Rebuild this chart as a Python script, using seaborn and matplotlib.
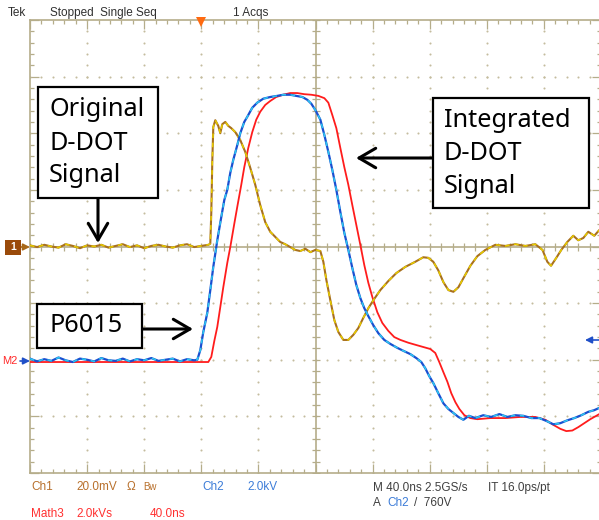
import numpy as np
import matplotlib
matplotlib.use("Agg")
import matplotlib.pyplot as plt
import seaborn as sns
from matplotlib.patches import Rectangle
from matplotlib.ticker import MultipleLocator

# ---------------- data (time in ns from trigger, amplitude in divisions) -------------
ch1_t = [-120, -115, -110, -105, -100, -95, -90, -85, -80, -75, -70, -65, -60, -55, -50,
         -45, -40, -35, -30, -25, -20, -15, -10, -5, 0, 5,
         6.3, 7, 7.7, 8.4, 9.8, 11.9, 13.3, 14.7, 16.8, 18.9, 21, 23.8,
         27.3, 30.8, 34.3, 37.8, 41.3, 44.8, 48.3, 51.8, 55.3, 58.8,
         62.3, 65.8, 69.3, 72.9, 76.4, 79.9, 83.4, 85.5, 87.6, 90.4,
         93.2, 96, 99.5, 103, 106.5, 110, 113.5, 117, 120.5, 125.4,
         131, 136.6, 142.9, 149.9, 155.5, 159, 162.5, 166, 169.6, 173.1,
         176.6, 180.1, 183.6, 188.5, 193.4, 199, 206, 213, 220, 227,
         234, 239, 242.4, 245, 248.7, 252.2, 256.4, 260.6, 264.1, 267.6,
         271.1, 275.3, 278.8]
ch1_v = [0.02, -0.01, 0.03, 0.0, -0.02, 0.04, 0.01, -0.03, 0.02, 0.0, 0.03, -0.02, 0.01,
         0.04, -0.01, 0.02, -0.03, 0.01, 0.03, 0.0, -0.02, 0.02, 0.04, -0.01, 0.01, 0.03,
         0.05, 0.6, 1.5, 2.11, 2.23, 2.13, 2.0, 2.16, 2.2, 2.13, 2.09, 2.02,
         1.88, 1.67, 1.39, 1.09, 0.73, 0.43, 0.26, 0.17, 0.08, 0.04,
         -0.01, -0.06, -0.08, -0.04, -0.10, -0.06, -0.08, -0.27, -0.59, -0.95,
         -1.30, -1.51, -1.65, -1.65, -1.56, -1.44, -1.26, -1.09, -0.95, -0.77,
         -0.61, -0.47, -0.36, -0.27, -0.19, -0.20, -0.27, -0.42, -0.63, -0.77,
         -0.80, -0.72, -0.56, -0.34, -0.17, -0.06, 0.03, 0.01, 0.04, 0.01,
         0.04, -0.06, -0.27, -0.34, -0.20, -0.06, 0.08, 0.19, 0.11, 0.15,
         0.26, 0.19, 0.29]

ch2_t = [-120, -115, -110, -105, -100, -95, -90, -85, -80, -75, -70, -65, -60, -55, -50,
         -45, -40, -35, -30, -25, -20, -15, -10, -5,
         -2.8, -0.7, 1.4, 4.2, 6.3, 8.4, 11.2, 13.3, 16.1, 18.2,
         20.3, 22.4, 25.2, 27.3, 30.1, 32.2, 35.7, 39.2, 43.4, 48.3,
         53.2, 57.4, 62.3, 66.5, 70.8, 74.3, 77.1, 79.9, 83.4, 86.2,
         89, 91.8, 94.6, 97.4, 100.2, 103, 105.8, 108.6, 111.4, 114.2,
         117, 120.5, 124, 128.2, 132.4, 137.3, 142.2, 146.4, 150.6,
         154.1, 156.9, 159.7, 162.5, 166, 169.6, 173.1, 176.6, 180.1, 183.6,
         187.5, 191.9, 197.5, 203.1, 208.8, 214.4, 220, 225.6, 231.2, 236.8,
         241.7, 246.6, 251.5, 256.4, 261.3, 266.2, 271.1, 275.3, 278.8]
ch2_v = [-1.98, -2.03, -1.99, -2.02, -1.96, -2.01, -2.04, -1.98, -2.0, -2.03, -1.97, -2.01,
         -2.02, -1.98, -2.03, -1.99, -2.01, -1.97, -2.02, -2.0, -1.98, -2.03, -1.99, -2.01,
         -2.0, -1.83, -1.51, -1.17, -0.77, -0.36, 0.11, 0.42, 0.82, 1.0,
         1.30, 1.53, 1.79, 2.0, 2.20, 2.29, 2.45, 2.54, 2.61, 2.64,
         2.66, 2.68, 2.68, 2.66, 2.64, 2.59, 2.52, 2.41, 2.24, 1.97,
         1.67, 1.35, 1.0, 0.61, 0.24, -0.06, -0.38, -0.68, -0.91, -1.09,
         -1.23, -1.39, -1.53, -1.65, -1.72, -1.79, -1.85, -1.90, -1.97,
         -2.04, -2.15, -2.29, -2.41, -2.59, -2.77, -2.87, -2.94, -3.01, -3.06,
         -2.99, -3.03, -2.98, -3.01, -2.96, -3.01, -2.98, -2.99, -3.03, -3.03,
         -3.08, -3.14, -3.12, -3.07, -3.03, -2.98, -2.92, -2.89, -2.85]

math3_t = [-120, 4.9, 7, 9.1, 11.2, 13.3, 15.4, 18.2, 20.3, 23.1, 25.2, 28, 30.1, 32.9,
           35.7, 38.5, 41.3, 44.8, 48.3, 52.5, 57.4, 62.3, 67.2, 72.1, 77.1, 82, 86.2,
           89, 91.8, 94.6, 97.4, 100.2, 103, 105.8, 108.6, 111.4, 114.2, 117, 119.8,
           123.3, 126.8, 131, 135.2, 139.5, 145.1, 150.6, 156.2, 160.4, 163.9, 166.7,
           169.6, 172.4, 175.1, 178, 180.8, 184.3, 188.5, 193.4, 202.5, 213, 223.5,
           234, 241, 246.6, 251.5, 255.7, 259.9, 264.1, 268.3, 272.5, 278.8]
math3_v = [-2.04, -2.04, -1.95, -1.67, -1.42, -1.07, -0.72, -0.29, -0.01, 0.40, 0.70, 1.09,
           1.40, 1.74, 2.02, 2.24, 2.38, 2.50, 2.57, 2.64, 2.68, 2.71, 2.71, 2.69, 2.68,
           2.66, 2.62, 2.54, 2.32, 2.09, 1.74, 1.40, 1.09, 0.73, 0.38, 0.03, -0.33,
           -0.64, -0.89, -1.16, -1.35, -1.49, -1.60, -1.65, -1.70, -1.74, -1.78, -1.81,
           -1.88, -2.04, -2.22, -2.39, -2.59, -2.75, -2.87, -2.98, -3.03, -3.05, -3.03,
           -3.03, -3.01, -3.01, -3.06, -3.15, -3.22, -3.26, -3.25, -3.19, -3.12, -3.05,
           -2.96]

# ---------------- style ----------------
sns.set_style("white")
plt.rcParams["font.family"] = ["Noto Sans", "DejaVu Sans"]

W, H = 599, 520
fig = plt.figure(figsize=(W / 100, H / 100), dpi=100)


def fx(x):
    return x / W


def fy(y):
    return 1 - y / H


GRAT = "#b5ad8a"
DOT = "#c4bc9e"

ax = fig.add_axes([fx(30), fy(473), (601 - 30) / W, (473 - 20) / H])
ax.set_xlim(-120, 280)
ax.set_ylim(-4, 4)
for s in ax.spines.values():
    s.set_color(GRAT)
    s.set_linewidth(1.2)
ax.xaxis.set_major_locator(MultipleLocator(40))
ax.xaxis.set_minor_locator(MultipleLocator(8))
ax.yaxis.set_major_locator(MultipleLocator(1))
ax.yaxis.set_minor_locator(MultipleLocator(0.2))
ax.tick_params(which="both", direction="in", top=True, right=True, bottom=True, left=True,
               labelbottom=False, labelleft=False, color=GRAT, width=0.9)
ax.tick_params(which="major", length=6.5)
ax.tick_params(which="minor", length=3.2)

# graticule: dotted division lines
ydots = np.arange(-4, 4.001, 0.2)
xdots = np.arange(-120, 280.1, 8)
for xm in [-80, -40, 0, 40, 120, 160, 200, 240]:
    ax.plot([xm] * len(ydots), ydots, ls="none", marker="o", ms=1.5, mew=0, color=DOT, zorder=1)
for ym in [-3, -2, -1, 1, 2, 3]:
    ax.plot(xdots, [ym] * len(xdots), ls="none", marker="o", ms=1.5, mew=0, color=DOT, zorder=1)
# center cross with ticks
ax.axvline(80, color=GRAT, lw=1.2, zorder=1)
ax.axhline(0, color=GRAT, lw=1.2, zorder=1)
ax.plot([80] * len(ydots), ydots, ls="none", marker="_", ms=6, mew=0.9, color=GRAT, zorder=1)
ax.plot(xdots, [0] * len(xdots), ls="none", marker="|", ms=6, mew=0.9, color=GRAT, zorder=1)

# ---------------- traces ----------------
sns.lineplot(x=math3_t, y=math3_v, ax=ax, color="#ff1c1c", linewidth=1.3,
             estimator=None, sort=False, legend=False, zorder=3)
sns.lineplot(x=ch1_t, y=ch1_v, ax=ax, color="#a8701e", linewidth=1.5,
             estimator=None, sort=False, legend=False, zorder=4)
sns.lineplot(x=ch1_t, y=ch1_v, ax=ax, color="#e6cc00", linewidth=1.1,
             estimator=None, sort=False, legend=False, zorder=4)
ax.lines[-1].set_dashes([3, 3])
sns.lineplot(x=ch2_t, y=ch2_v, ax=ax, color="#1a4fd0", linewidth=1.6,
             estimator=None, sort=False, legend=False, zorder=5)
sns.lineplot(x=ch2_t, y=ch2_v, ax=ax, color="#2cc8f0", linewidth=1.1,
             estimator=None, sort=False, legend=False, zorder=5)
ax.lines[-1].set_dashes([3, 3])
ax.set_xlabel("")
ax.set_ylabel("")
ax.set_xlim(-120, 280)
ax.set_ylim(-4, 4)

# trigger position marker
ax.plot([0], [3.96], marker="v", ms=7, color="#ff6a10", mew=0, clip_on=False, zorder=6)

# ---------------- left/right level markers ----------------
fig.add_artist(Rectangle((fx(5), fy(255)), 16 / W, 15 / H, transform=fig.transFigure,
                         facecolor="#9a4a0a", edgecolor="none"))
fig.text(fx(13), fy(247.5), "1", color="white", fontsize=7.5, fontweight="bold",
         ha="center", va="center", family="Liberation Sans")
arrow_small = dict(arrowstyle="-|>,head_length=0.5,head_width=0.25", lw=1.2,
                   shrinkA=0, shrinkB=0, mutation_scale=8)
ax.annotate("", xy=(fx(30), fy(247)), xycoords="figure fraction", xytext=(fx(21), fy(247)),
            textcoords="figure fraction", arrowprops=dict(color="#a86818", **arrow_small))
fig.text(fx(2), fy(361), "M2", color="#ff2a2a", fontsize=8, ha="left", va="center",
         family="Liberation Sans")
ax.annotate("", xy=(fx(30), fy(361)), xycoords="figure fraction", xytext=(fx(20), fy(361)),
            textcoords="figure fraction", arrowprops=dict(color="#2050c8", **arrow_small))
ax.annotate("", xy=(fx(585), fy(340)), xycoords="figure fraction", xytext=(fx(599), fy(340)),
            textcoords="figure fraction", arrowprops=dict(color="#2050c8", **arrow_small))

# ---------------- header / footer text ----------------
SC = dict(fontsize=8.5, family="Liberation Sans", va="baseline", ha="left")
fig.text(fx(8), fy(16), "Tek", color="#303030", **SC)
fig.text(fx(50), fy(16), "Stopped  Single Seq", color="#303030", **SC)
fig.text(fx(233), fy(16), "1 Acqs", color="#303030", **SC)

BR = "#b8702c"
BL = "#3c7cd8"
RD = "#ff3030"
DK = "#404040"
fig.text(fx(31), fy(490), "Ch1", color=BR, **SC)
fig.text(fx(76), fy(490), "20.0mV", color=BR, **SC)
fig.text(fx(127), fy(490), "Ω", color=BR, **SC)
fig.text(fx(143), fy(490), "Bw", color=BR, fontsize=7, family="Liberation Sans",
         va="baseline", ha="left")
fig.text(fx(202), fy(490), "Ch2", color=BL, **SC)
fig.text(fx(247), fy(490), "2.0kV", color=BL, **SC)
fig.text(fx(373), fy(491), "M 40.0ns 2.5GS/s", color=DK, **SC)
fig.text(fx(488), fy(491), "IT 16.0ps/pt", color=DK, **SC)
fig.text(fx(31), fy(517), "Math3", color=RD, **SC)
fig.text(fx(76), fy(517), "2.0kVs", color=RD, **SC)
fig.text(fx(150), fy(517), "40.0ns", color=RD, **SC)
fig.text(fx(373), fy(506), "A", color=DK, **SC)
fig.text(fx(387), fy(506), "Ch2", color=BL, **SC)
fig.text(fx(414), fy(506), "/  760V", color=DK, **SC)

# ---------------- annotation boxes ----------------
def box(x0, y0, x1, y1):
    fig.add_artist(Rectangle((fx(x0), fy(y1)), (x1 - x0) / W, (y1 - y0) / H,
                             transform=fig.transFigure, facecolor="white",
                             edgecolor="black", lw=1.6, zorder=10))


def label(x, y, s):
    fig.text(fx(x), fy(y), s, fontsize=18.2, color="black", ha="left", va="center",
             zorder=11)


big_arrow = dict(arrowstyle="->,head_length=0.6,head_width=0.35", lw=2.2, color="black",
                 shrinkA=0, shrinkB=0, mutation_scale=20)

box(38, 87, 158, 198)
label(49, 110, "Original")
label(49, 143, "D-DOT")
label(49, 176, "Signal")
ax.annotate("", xy=(fx(98), fy(243)), xycoords="figure fraction", xytext=(fx(98), fy(198)),
            textcoords="figure fraction", arrowprops=big_arrow)

box(433, 98, 589, 208)
label(444, 120, "Integrated")
label(444, 153, "D-DOT")
label(444, 186, "Signal")
ax.annotate("", xy=(fx(356), fy(158)), xycoords="figure fraction", xytext=(fx(433), fy(158)),
            textcoords="figure fraction", arrowprops=big_arrow)

box(37, 304, 142, 348)
label(50, 326, "P6015")
ax.annotate("", xy=(fx(193), fy(329)), xycoords="figure fraction", xytext=(fx(142), fy(329)),
            textcoords="figure fraction", arrowprops=big_arrow)

fig.savefig("out.png", dpi=100, facecolor="white")
